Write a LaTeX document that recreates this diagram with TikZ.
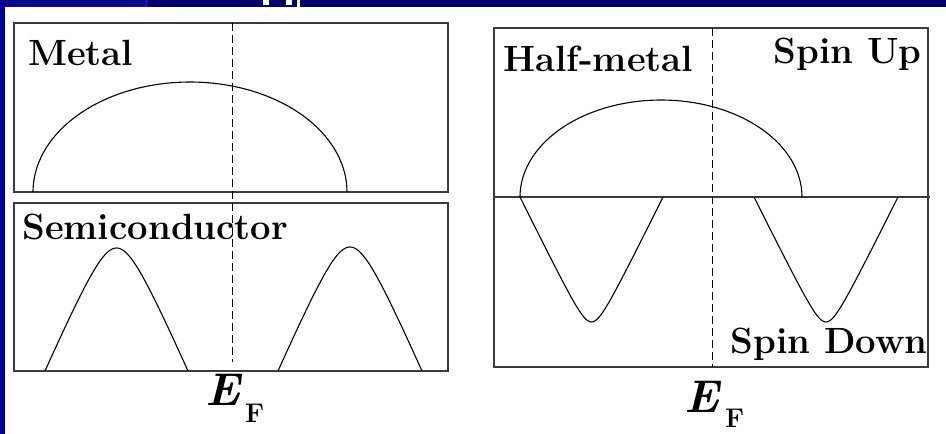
\documentclass[tikz,border=0pt]{standalone}
\definecolor{navyA}{RGB}{10,10,140}
\definecolor{navyB}{RGB}{0,0,104}
\definecolor{navyC}{RGB}{20,20,170}
\definecolor{navyL}{RGB}{0,0,150}
\definecolor{boxgray}{RGB}{60,60,60}
\begin{document}
\begin{tikzpicture}[x=1pt,y=-1pt,
  boxline/.style={draw=boxgray,line width=1.3pt},
  curve/.style={draw=black,line width=1.1pt,line join=round},
  efline/.style={draw=black,line width=1pt,dash pattern=on 8pt off 4pt},
  lbl/.style={inner sep=0pt,font=\fontsize{36.5}{40}\selectfont\bfseries},
  elbl/.style={inner sep=0pt,font=\fontsize{46}{50}\selectfont\bfseries\itshape},
  flbl/.style={inner sep=0pt,font=\fontsize{27}{30}\selectfont\bfseries}]
\useasboundingbox (0,0) rectangle (946,434);
% background and slide frame
\fill[white] (0,0) rectangle (946,434);
\fill[navyA] (0,0) rectangle (145,7);
\fill[navyC] (145,0) rectangle (148,7);
\fill[navyB] (148,0) rectangle (946,7);
\fill[navyL] (0,0) rectangle (5,434);
\fill[white] (263,0) rectangle (269,5);
\fill[white] (286,0) rectangle (292,5);
\fill[white] (297,0) rectangle (300,7);
% ---------------- left panel ----------------
\draw[boxline] (14,23) rectangle (448,192);
\draw[boxline] (14,203) rectangle (448,371);
\draw[efline] (232,23) -- (232,362);
% metal band
\draw[curve] plot[domain=180:0,samples=90] ({190+157*cos(\x)},{192-110*sin(\x)});
% semiconductor bands
\draw[curve] plot[domain=-1:1,samples=81] ({116.5+71.5*\x},{371-123*(1-(sqrt(\x*\x+0.09)-0.3)/0.744)});
\draw[curve] plot[domain=-1:1,samples=81] ({350+72*\x},{371-124*(1-(sqrt(\x*\x+0.09)-0.3)/0.744)});
\node[lbl,anchor=base west] (metal) at (28,65) {Metal};
\node[lbl,anchor=base west] (semi) at (22,239) {Semiconductor};
\node[elbl,anchor=base west] (efl) at (205,405) {E};
\node[flbl,anchor=base west] (ffl) at (245,422) {F};
% ---------------- right panel ----------------
\draw[boxline] (494,28) rectangle (928,367);
\draw[boxline] (494,197) -- (930,197);
\draw[efline] (712,28) -- (712,367);
% spin up band
\draw[curve] plot[domain=180:0,samples=90] ({661+141*cos(\x)},{197-97*sin(\x)});
% spin down bands
\draw[curve] plot[domain=-1:1,samples=81] ({591.5+71.5*\x},{197+125*(1-(sqrt(\x*\x+0.0225)-0.15)/0.8612)});
\draw[curve] plot[domain=-1:1,samples=81] ({826+72*\x},{197+125*(1-(sqrt(\x*\x+0.0225)-0.15)/0.8612)});
\node[lbl,anchor=base west] (half) at (503,71) {Half-metal};
\node[lbl,anchor=base east] (up) at (922,63) {Spin Up};
\node[lbl,anchor=base east] (down) at (928,353) {Spin Down};
\node[elbl,anchor=base west] (efr) at (684,412) {E};
\node[flbl,anchor=base west] (ffr) at (725,427) {F};
\end{tikzpicture}
\end{document}
